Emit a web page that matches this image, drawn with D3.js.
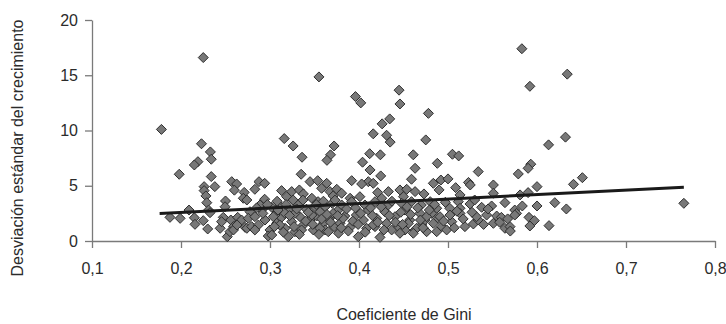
<!DOCTYPE html>
<html>
<head>
<meta charset="utf-8">
<script src="https://cdn.jsdelivr.net/npm/d3@7"></script>
<style>
  html, body { margin: 0; padding: 0; background: #fff; }
  svg { display: block; }
  text { font-family: Arial, "Liberation Sans", Helvetica, sans-serif; }
</style>
</head>
<body>
<svg id="chart" width="726" height="324"></svg>
<script>
// ---- data ----
const gini = [
  0.178,0.225,0.355,0.396,0.402,0.445,0.446,0.478,0.316,0.326,0.336,0.372,0.368,0.364,0.416,0.426,0.4345,0.431,0.435,0.412,0.424,0.461,0.475,0.505,0.512,0.223,0.233,0.583,0.634,0.592,0.632,0.613,
  0.234,0.219,0.215,0.198,0.234,0.238,0.226,0.226,0.228,0.229,0.231,0.257,0.2625,0.26,0.271,0.27,0.250,0.2495,0.209,0.1876,0.199,0.215,0.225,0.2157,0.23,0.244,0.2475,0.256,0.2456,0.259,0.252,0.255,0.2637,0.272,0.268,0.2326,0.259,0.263,0.274,
  0.335,0.345,0.3536,0.3637,0.2876,0.294,0.283,0.313,0.3244,0.333,0.3375,0.358,0.3674,0.375,0.371,0.294,0.3187,0.326,0.347,0.354,0.2775,0.2907,0.302,0.311,0.3225,0.3318,0.341,0.3506,0.362,0.37,0.3767,0.2756,0.283,0.2794,0.287,0.2944,0.3,0.298,0.3075,0.313,0.3169,0.3244,0.328,0.3337,0.3375,0.345,0.3487,0.3524,0.36,0.362,0.367,0.372,0.377,0.3205,0.3056,0.2888,0.274,0.309,0.3562,0.328,
  0.404,0.4124,0.463,0.4244,0.3918,0.4105,0.403,0.416,0.459,0.3805,0.39,0.401,0.421,0.433,0.446,0.4536,0.463,0.473,0.4255,0.45,0.3805,0.3918,0.4067,0.418,0.433,0.448,0.459,0.47,0.384,0.3787,0.39,0.3992,0.397,0.405,0.4105,0.4086,0.4199,0.418,0.4236,0.429,0.431,0.4367,0.4405,0.444,0.4517,0.4517,0.457,0.463,0.4685,0.4705,0.474,0.476,0.446,
  0.488,0.534,0.579,0.4835,0.492,0.5,0.49,0.5086,0.523,0.525,0.551,0.5135,0.551,0.48,0.4873,0.5116,0.5135,0.5247,0.53,0.5378,0.549,0.564,0.575,0.502,0.4817,0.4835,0.489,0.493,0.4873,0.4985,0.5042,0.5022,0.5135,0.519,0.5285,0.534,0.5434,0.551,0.5547,0.56,0.564,0.5697,0.577,
  0.593,0.59,0.651,0.641,0.6,0.59,0.581,0.5835,0.6,0.62,0.633,0.591,0.597,0.592,0.6135,0.575,0.765,
  0.283,0.302,0.311,0.3355,0.356,0.3655,0.3037,0.3169,0.347,0.371,0.382,0.416,0.4555,0.4647,0.476,0.532,
  0.285,0.292,0.297,0.305,0.308,0.315,0.318,0.322,0.327,0.33,0.333,0.337,0.34,0.343,0.348,0.352,0.355,0.358,0.36,0.364,0.368,0.373,0.376,0.38,0.386,0.388,0.393,0.396,0.399,0.402,0.407,0.413,0.415,0.421,0.425,0.428,0.434,0.437,0.441,0.447,0.449,0.454,0.458,0.461,0.466,0.469,0.472,0.479,0.485,0.491,0.495,0.497,0.507,0.51,0.517,0.527,0.54,0.545,0.558,0.567,0.57
];
const desv = [
  10.1,16.6,14.85,13.07,12.5,13.65,12.4,11.55,9.27,8.6,7.58,8.6,7.8,7.3,9.7,10.6,11.05,9.57,8.95,7.9,7.8,7.8,9.15,7.85,7.7,8.8,8.06,17.4,15.1,14.0,9.4,8.7,
  7.4,7.18,6.88,6.04,5.83,4.92,4.92,4.56,4.08,3.47,2.8,5.37,5.16,4.6,4.4,3.87,3.62,3.1,2.8,2.14,2.05,2.1,1.84,1.51,1.09,1.15,2.14,1.9,1.75,1.3,0.39,0.84,2.14,1.24,1.9,2.56,1.0,1.45,1.15,
  6.04,5.37,5.46,5.22,5.37,5.22,4.68,4.56,4.47,4.62,4.26,4.77,4.47,4.68,4.08,3.78,4.01,3.71,3.87,3.56,2.65,2.81,3.05,3.17,2.8,3.26,2.87,3.1,3.1,3.41,2.8,2.05,2.2,1.3,1.45,1.9,1.0,0.45,1.6,2.14,1.15,1.75,0.84,2.2,1.45,1.9,1.0,2.26,1.6,1.0,2.05,1.3,0.7,0.39,2.35,3.26,3.71,2.8,2.65,2.5,
  7.13,6.43,6.58,5.89,5.46,5.37,5.16,5.22,5.59,4.32,3.87,4.01,4.38,4.47,4.62,4.68,4.47,4.26,3.87,4.01,3.26,3.56,3.26,3.56,3.26,3.41,3.56,3.26,2.26,1.6,1.24,0.39,2.35,1.9,2.8,1.15,2.05,1.3,0.33,2.65,1.6,1.0,2.2,1.3,1.0,2.8,1.9,1.0,2.5,1.45,1.9,0.84,0.7,
  7.03,6.28,6.07,5.22,5.52,5.62,4.62,4.83,5.3,5.07,5.07,4.17,4.32,3.56,2.96,3.56,2.96,3.35,3.71,3.05,3.17,3.47,2.8,2.96,2.5,1.6,2.05,1.3,0.84,1.0,1.75,2.35,2.5,1.3,1.54,1.9,2.35,1.6,2.26,2.14,1.15,1.3,2.5,
  6.95,6.58,5.73,5.13,4.92,4.38,4.17,3.17,3.17,3.47,2.9,2.14,1.84,1.36,1.39,2.35,3.41,
  1.0,0.54,1.45,1.0,1.15,0.84,2.2,2.5,2.35,2.5,2.05,1.45,1.6,1.15,2.2,2.2,
  3.0,2.5,3.3,1.3,3.6,0.8,3.3,2.3,1.3,2.9,0.6,3.7,1.8,2.6,1.5,3.3,0.6,2.0,3.6,2.4,1.7,3.7,2.3,1.2,2.9,0.9,1.8,3.0,1.5,2.5,0.8,3.0,2.3,1.7,3.1,1.0,2.3,3.6,1.7,2.6,1.5,3.1,2.4,0.7,3.0,1.9,1.2,2.8,3.3,2.2,1.8,3.5,1.2,2.7,2.0,2.6,1.5,2.9,1.7,2.0,0.9
];
// trend line end points
const trendX = [0.176, 0.765];
const trendY = [2.48, 4.87];
const xTicks = [0.1,0.2,0.3,0.4,0.5,0.6,0.7,0.8];
const yTicks = [0,5,10,15,20];
const xTitle = "Coeficiente de Gini";
const yTitle = "Desviación estándar del crecimiento";

// ---- chart ----
const svg = d3.select("#chart");
const x = d3.scaleLinear().domain([0.1, 0.8]).range([92, 715]);
const y = d3.scaleLinear().domain([0, 20]).range([241, 20]);
const fmt = d => d3.format(".1f")(d).replace(".", ",");

const axisColor = "#7a7a7a";
const textColor = "#2b2b2b";

const gx = svg.append("g").attr("transform", `translate(0,${y(0)})`)
  .call(d3.axisBottom(x).tickValues(xTicks).tickFormat(fmt).tickSize(7).tickSizeOuter(0).tickPadding(15));
const gy = svg.append("g").attr("transform", `translate(${x(0.1)},0)`)
  .call(d3.axisLeft(y).tickValues(yTicks).tickSize(7).tickSizeOuter(0).tickPadding(7));
[gx, gy].forEach(g => {
  g.select(".domain").attr("stroke", axisColor).attr("stroke-width", 1.3);
  g.selectAll(".tick line").attr("stroke", axisColor).attr("stroke-width", 1.3);
  g.selectAll(".tick text").attr("fill", textColor).style("font-size", "16px")
    .style("font-family", 'Arial, "Liberation Sans", sans-serif');
});

const pts = gini.map((g, i) => ({x: g, y: desv[i]}));
const r = 5;
const diamond = `M0,${-r}L${r},0L0,${r}L${-r},0Z`;
svg.append("g").selectAll("path").data(pts).join("path")
  .attr("d", diamond)
  .attr("transform", d => `translate(${x(d.x)},${y(d.y)})`)
  .attr("fill", "#787878")
  .attr("stroke", "#2e2e2e")
  .attr("stroke-width", 1);

svg.append("line")
  .attr("x1", x(trendX[0])).attr("y1", y(trendY[0]))
  .attr("x2", x(trendX[1])).attr("y2", y(trendY[1]))
  .attr("stroke", "#1a1a1a").attr("stroke-width", 3);

svg.append("text").attr("x", 404).attr("y", 320).attr("text-anchor", "middle")
  .attr("fill", textColor).style("font-size", "16px").text(xTitle);
svg.append("text").attr("transform", "translate(23,148) rotate(-90)").attr("text-anchor", "middle")
  .attr("fill", textColor).style("font-size", "16px").text(yTitle);
</script>
</body>
</html>
